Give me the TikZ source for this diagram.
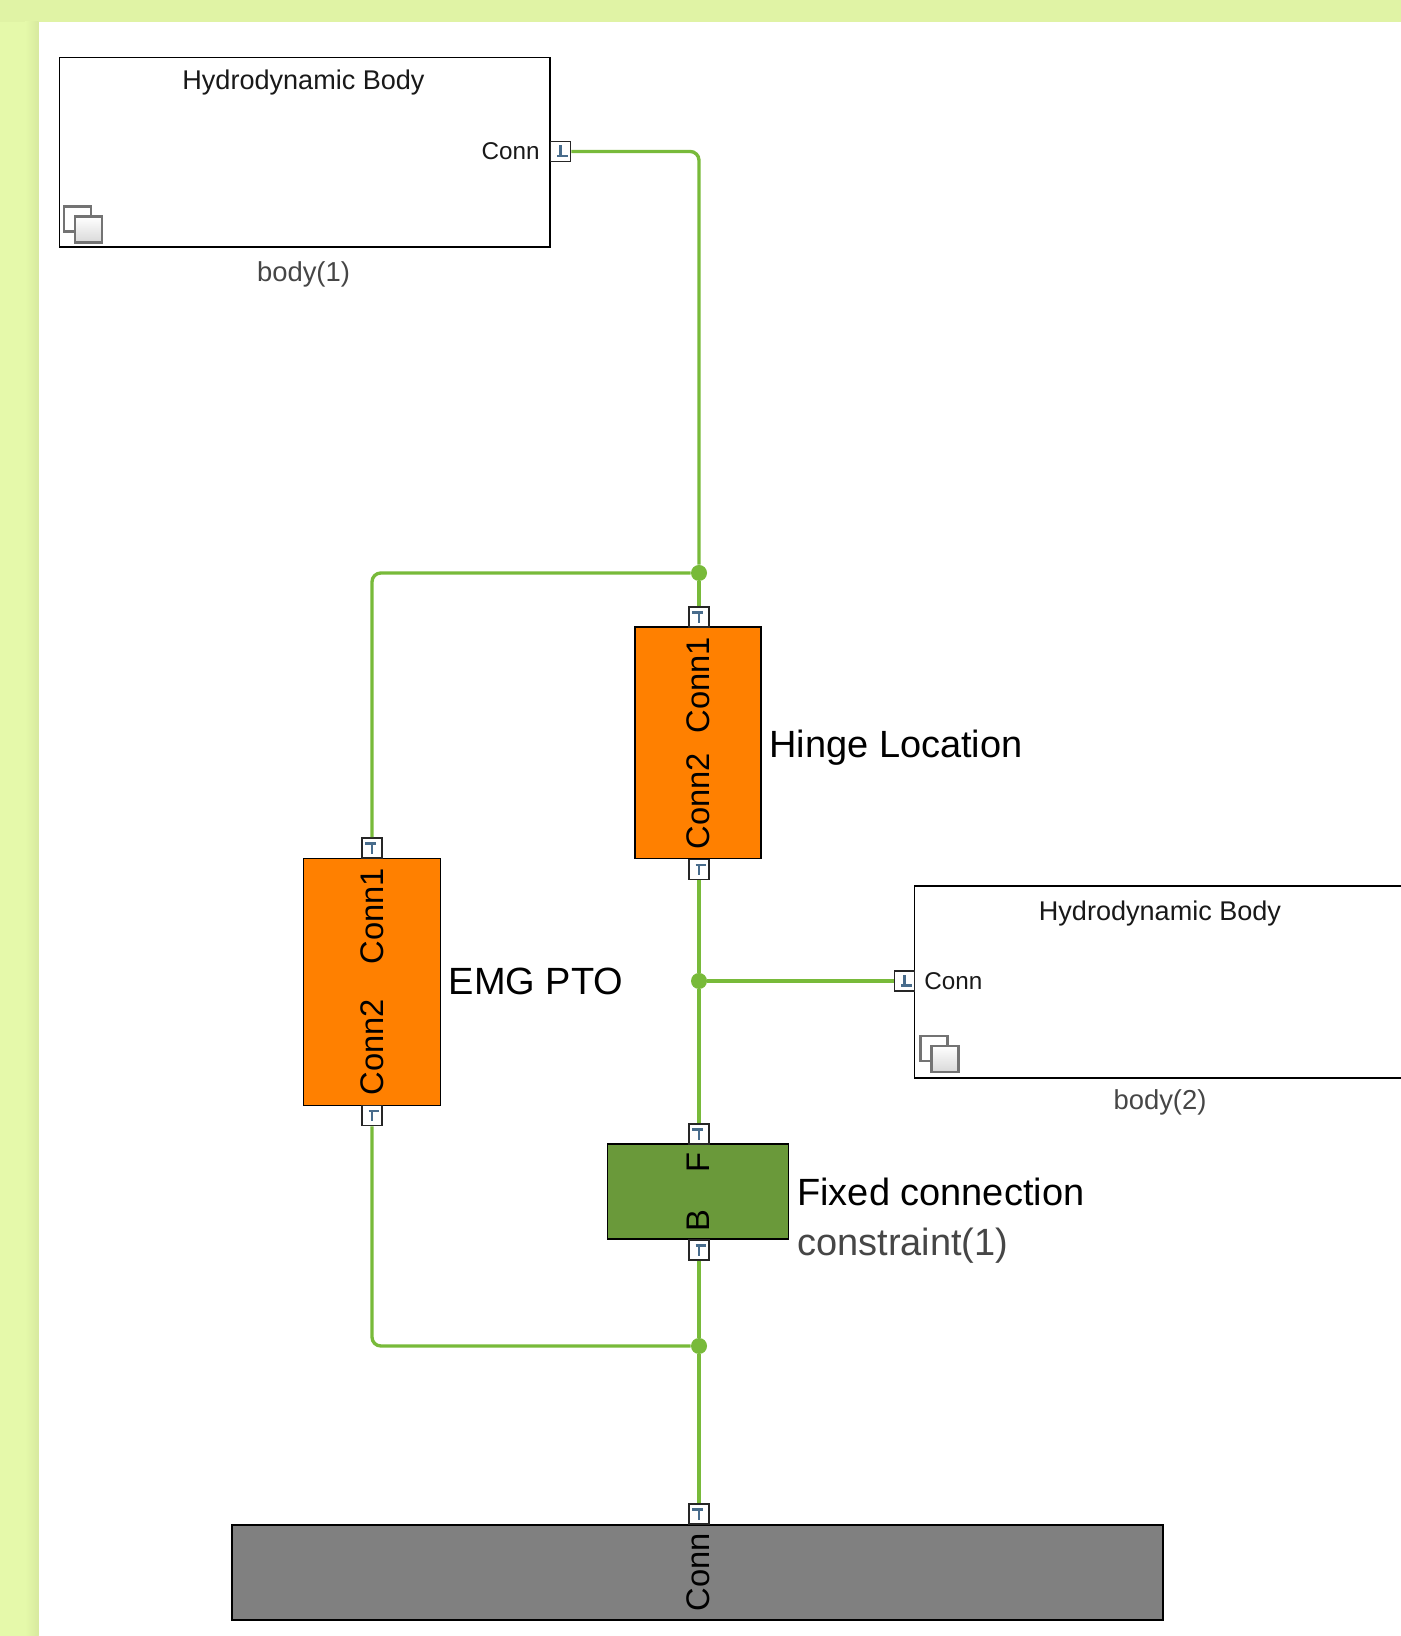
\documentclass[tikz,border=0pt]{standalone}
\usepackage{fontspec}
\setmainfont{Liberation Sans}
\usetikzlibrary{positioning}
\definecolor{PageGreen}{RGB}{229,249,170}
\definecolor{PageTop}{RGB}{224,243,165}
\definecolor{WireGreen}{RGB}{120,186,58}
\definecolor{BlockOrange}{RGB}{255,128,0}
\definecolor{BlockGreen}{RGB}{106,153,58}
\definecolor{BlockGrey}{RGB}{128,128,128}
\definecolor{PortBlue}{RGB}{72,108,140}
\definecolor{NameGrey}{RGB}{70,70,70}

\begin{document}
\begin{tikzpicture}[
    block/.style={draw=black,line width=0.8pt,inner sep=0pt},
    bodybox/.style={block,fill=white,minimum width=9.81cm},
    port/.style={draw=black!85,fill=white,line width=1pt,minimum size=0.4cm,inner sep=0pt},
    wire/.style={WireGreen,line width=1.9pt,rounded corners=5pt},
    junction/.style={circle,fill=WireGreen,minimum size=0.32cm,inner sep=0pt},
    txt/.style={font=\fontsize{15.4}{18}\selectfont,text=black!90,inner sep=0pt},
    connlab/.style={font=\fontsize{13.8}{16}\selectfont,text=black!90,inner sep=0pt},
    namelab/.style={font=\fontsize{15.6}{18}\selectfont,text=NameGrey,inner sep=0pt},
    portname/.style={font=\fontsize{18.6}{20}\selectfont,text=black,inner sep=0pt,rotate=90},
    biglabel/.style={font=\fontsize{21.6}{25}\selectfont,text=black,inner sep=0pt,anchor=west},
    glyph/.pic={
      \draw[PortBlue,line width=1.6pt] (-0.07,-0.09)--(0.14,-0.09);
      \draw[PortBlue,line width=1.6pt] (0,-0.09)--(0,0.12);
    },
    stackicon/.pic={
      \draw[black!55,line width=1.3pt,fill=white] (0.07,0.32) rectangle (0.61,0.82);
      \draw[black!55,line width=1.3pt,top color=white,bottom color=black!15] (0.29,0.10) rectangle (0.83,0.62);
    }
  ]
    \useasboundingbox (0,0) rectangle (28.02,32.72);
    % page behind the canvas
    \fill[PageGreen] (0,0) rectangle (28.02,32.72);
    \fill[PageTop] (0,32.28) rectangle (28.02,32.72);
    \shade[left color=PageGreen,right color=PageTop!96!black] (0.5,0) rectangle (0.77,32.28);
    \fill[white] (0.77,0) rectangle (28.02,32.28);

    % Hydrodynamic bodies
    \node[bodybox,minimum height=3.79cm] (b1) at (6.095,29.676) {};
    \node[txt] (b1_title) at (6.07,31.06) {Hydrodynamic Body};
    \node[connlab,anchor=east] (b1_conn) at (10.8,29.69) {Conn};
    \node[namelab] (b1_name) at (6.07,27.23) {body(1)};
    \node[port] (p_b1) at (11.21,29.69) {};
    \pic at ([shift={(0.04,0)}]b1.south west) {stackicon};

    \node[bodybox,minimum height=3.84cm] (b2) at (23.2,13.08) {};
    \node[txt] (b2_title) at (23.2,14.44) {Hydrodynamic Body};
    \node[connlab,anchor=west] (b2_conn) at (18.48,13.1) {Conn};
    \node[namelab] (b2_name) at (23.2,10.67) {body(2)};
    \node[port] (p_b2) at (18.09,13.1) {};
    \pic at ([shift={(0.06,0.04)}]b2.south west) {stackicon};

    % Hinge column
    \node[block,fill=BlockOrange,minimum width=2.52cm,minimum height=4.63cm] (hinge) at (13.96,17.865) {};
    \node[portname] (h_c1) at (13.96,19.02) {Conn1};
    \node[portname] (h_c2) at (13.96,16.70) {Conn2};
    \node[biglabel] (h_lab) at (15.38,17.76) {Hinge Location};
    \node[port] (p_h1) at (13.98,20.38) {};
    \node[port] (p_h2) at (13.98,15.33) {};

    % EMG column
    \node[block,fill=BlockOrange,minimum width=2.73cm,minimum height=4.93cm] (emg) at (7.44,13.08) {};
    \node[portname] (e_c1) at (7.44,14.40) {Conn1};
    \node[portname] (e_c2) at (7.44,11.78) {Conn2};
    \node[biglabel] (e_lab) at (8.97,13.09) {EMG PTO};
    \node[port] (p_e1) at (7.44,15.76) {};
    \node[port] (p_e2) at (7.44,10.41) {};

    % Constraint
    \node[block,fill=BlockGreen,minimum width=3.62cm,minimum height=1.9cm] (fix) at (13.96,8.89) {};
    \node[portname] (f_f) at (13.97,9.46) {F};
    \node[portname] (f_b) at (13.97,8.30) {B};
    \node[biglabel] (f_lab) at (15.94,8.88) {Fixed connection};
    \node[biglabel,text=NameGrey] (f_name) at (15.94,7.80) {constraint(1)};
    \node[port] (p_f1) at (13.98,10.04) {};
    \node[port] (p_f2) at (13.98,7.72) {};

    % Ground block
    \node[block,fill=BlockGrey,minimum width=18.62cm,minimum height=1.9cm] (ground) at (13.95,1.27) {};
    \node[portname] (g_c) at (13.97,1.27) {Conn};
    \node[port] (p_g) at (13.98,2.44) {};

    % Junctions
    \node[junction] (j_top) at (13.98,21.26) {};
    \node[junction] (j_mid) at (13.98,13.10) {};
    \node[junction] (j_bot) at (13.98,5.80) {};

    % Wires
    \draw[wire] (p_b1) -| (j_top);
    \draw[wire] (p_e1) |- (j_top);
    \draw[wire] (j_top) -- (p_h1);
    \draw[wire] (p_h2) -- (j_mid);
    \draw[wire] (j_mid) -- (p_b2);
    \draw[wire] (j_mid) -- (p_f1);
    \draw[wire] (p_f2) -- (j_bot);
    \draw[wire] (p_e2) |- (j_bot);
    \draw[wire] (j_bot) -- (p_g);

    % Port marks
    \foreach \p/\sx/\sy in {p_b1/1/1,p_b2/1/1,p_h1/-1/-1,p_e1/-1/-1,p_f1/-1/-1,p_g/-1/-1,
                            p_h2/1/-1,p_e2/1/-1,p_f2/1/-1}
      \pic[xscale=\sx,yscale=\sy] at (\p) {glyph};
  \end{tikzpicture}
\end{document}
